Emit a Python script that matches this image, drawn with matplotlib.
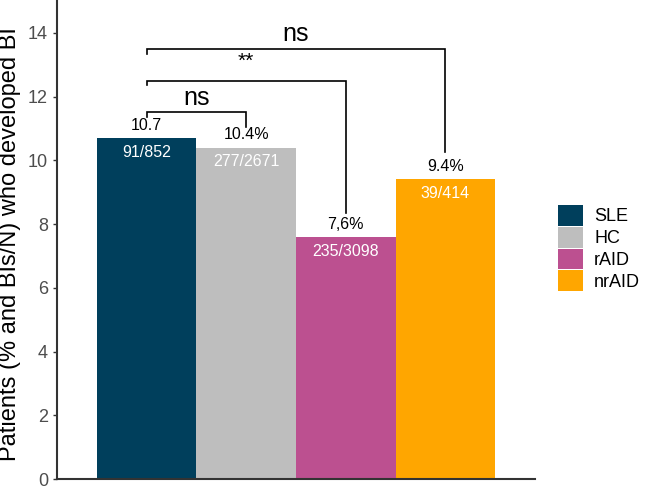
import matplotlib
matplotlib.use("Agg")
import matplotlib.pyplot as plt
from matplotlib.patches import Patch

plt.rcParams["font.family"] = ["Liberation Sans", "DejaVu Sans"]

groups = ["SLE", "HC", "rAID", "nrAID"]
percent = [10.7, 10.4, 7.6, 9.4]
top_labels = ["10.7", "10.4%", "7,6%", "9.4%"]
inside_labels = ["91/852", "277/2671", "235/3098", "39/414"]
colors = ["#003f5c", "#bebebe", "#bc5090", "#ffa600"]

# comparisons: (left bar, right bar, bracket height, right drop end, label)
comparisons = [
    (0, 1, 11.5, 11.05, "ns"),
    (0, 2, 12.5, 8.36, "**"),
    (0, 3, 13.5, 10.25, "ns"),
]

fig = plt.figure(figsize=(6.46, 4.88), dpi=100)
ax = fig.add_axes([57 / 646, 9 / 488, 478 / 646, 479 / 488])

x = list(range(len(groups)))
ax.bar(x, percent, width=1.0, color=colors, linewidth=0)

for xi, val, lab in zip(x, percent, top_labels):
    ax.text(xi, val + 0.4, lab, ha="center", va="center", fontsize=11.5, color="black")
for xi, val, lab in zip(x, percent, inside_labels):
    ax.text(xi, val - 0.45, lab, ha="center", va="center", fontsize=11.5, color="white")

for left, right, h, drop, lab in comparisons:
    ax.plot([left, left, right, right], [h - 0.15, h, h, drop],
            color="black", linewidth=1.2, solid_joinstyle="miter")
    if lab == "**":
        ax.text((left + right) / 2, h + 0.6, lab, ha="center", va="center", fontsize=15)
    else:
        ax.text((left + right) / 2, h + 0.45, lab, ha="center", va="center", fontsize=18)

ax.set_xlim(-0.9, 3.9)
ax.set_ylim(0, 15.03)
ax.set_yticks([0, 2, 4, 6, 8, 10, 12, 14])
ax.set_xticks([])
ax.tick_params(axis="y", labelsize=13, labelcolor="#4d4d4d", color="#333333",
               length=3, width=1)
for s in ["top", "right"]:
    ax.spines[s].set_visible(False)
for s in ["left", "bottom"]:
    ax.spines[s].set_color("#333333")
    ax.spines[s].set_linewidth(1.5)
ax.set_ylabel("Patients (% and BIs/N) who developed BI", fontsize=17)
ax.yaxis.set_label_coords(-0.076, 0.49)

handles = [Patch(facecolor=c, edgecolor="none") for c in colors]
fig.legend(handles, groups, loc="upper left", bbox_to_anchor=(558 / 646, 1 - 205 / 488),
           frameon=False, fontsize=13, handlelength=1.4, handleheight=1.4,
           labelspacing=0.05, handletextpad=0.6, borderpad=0, borderaxespad=0)

fig.savefig("out.png", dpi=100)
